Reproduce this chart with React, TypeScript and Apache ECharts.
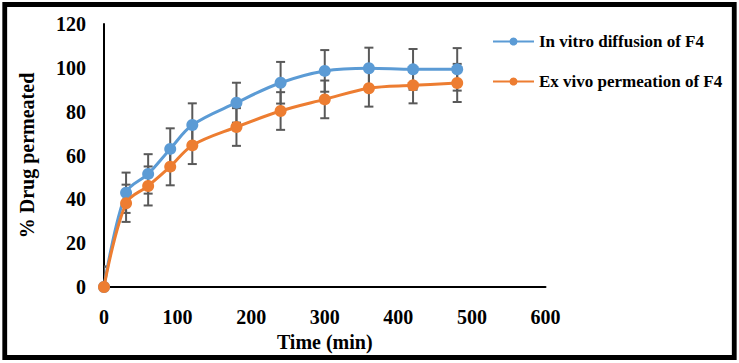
import React, { useEffect, useRef } from "react";
import * as echarts from "echarts";

const times = [0, 30, 60, 90, 120, 180, 240, 300, 360, 420, 480];
const inVitro = [0, 43.0, 51.6, 63.0, 73.9, 84.1, 93.2, 98.6, 99.8, 99.3, 99.3];
const exVivo = [0, 38.2, 46.1, 54.9, 64.6, 73.0, 80.3, 85.6, 90.7, 92.0, 93.1];
const inVitroErr = [9.3, 9.2, 9.0, 9.4, 9.9, 9.1, 9.5, 9.5, 9.4, 9.3, 9.7];
const exVivoErr = [9.3, 8.5, 8.9, 8.5, 8.5, 8.6, 8.6, 8.6, 8.4, 8.2, 8.7];
const seriesNames = ["In vitro diffusion of F4", "Ex vivo permeation of F4"];
const xTitle = "Time (min)";
const yTitle = "% Drug permeated";

const FONT = "Liberation Serif";
const BLUE = "#5B9BD5";
const ORANGE = "#ED7D31";
const ERR = "#595959";

function errorSeries(name: string, vals: number[], errs: number[]) {
  return {
    type: "custom",
    name,
    z: 1,
    clip: true,
    silent: true,
    encode: { x: 0, y: 1 },
    data: times.map((t, i) => [t, vals[i], errs[i]]),
    renderItem: (params: any, api: any) => {
      const x = api.value(0);
      const y = api.value(1);
      const e = api.value(2);
      const top = api.coord([x, y + e]);
      const bot = api.coord([x, y - e]);
      const hw = 4.5;
      const style = { stroke: ERR, lineWidth: 2 };
      return {
        type: "group",
        children: [
          { type: "line", shape: { x1: top[0], y1: top[1], x2: bot[0], y2: bot[1] }, style },
          { type: "line", shape: { x1: top[0] - hw, y1: top[1], x2: top[0] + hw, y2: top[1] }, style },
          { type: "line", shape: { x1: bot[0] - hw, y1: bot[1], x2: bot[0] + hw, y2: bot[1] }, style },
        ],
      };
    },
  };
}

function lineSeries(name: string, vals: number[], color: string, z: number) {
  return {
    type: "line",
    name,
    z,
    data: times.map((t, i) => [t, vals[i]]),
    smooth: 0.35,
    symbol: "circle",
    symbolSize: 12,
    showSymbol: true,
    lineStyle: { color, width: 3 },
    itemStyle: { color },
  };
}

export default function App() {
  const ref = useRef<HTMLDivElement>(null);
  useEffect(() => {
    document.body.style.margin = "0";
    const chart = echarts.init(ref.current!, null, { renderer: "svg" });
    chart.setOption({
      animation: false,
      backgroundColor: "#ffffff",
      textStyle: { fontFamily: FONT },
      grid: { left: 104, top: 24, width: 441.5, height: 263 },
      legend: {
        data: seriesNames,
        orient: "vertical",
        left: 487,
        top: 28,
        itemWidth: 41,
        itemHeight: 10,
        itemGap: 23,
        lineStyle: { width: 2 },
        textStyle: { fontFamily: FONT, fontWeight: "bold", fontSize: 17, color: "#000" },
      },
      xAxis: {
        type: "value",
        min: 0,
        max: 600,
        interval: 100,
        name: xTitle,
        nameLocation: "middle",
        nameGap: 44,
        nameTextStyle: { fontFamily: FONT, fontWeight: "bold", fontSize: 20, color: "#000" },
        axisLine: { show: true, lineStyle: { color: "#000", width: 2 } },
        axisTick: { show: false },
        splitLine: { show: false },
        axisLabel: { fontFamily: FONT, fontWeight: "bold", fontSize: 20, color: "#000", margin: 20 },
      },
      yAxis: {
        type: "value",
        min: 0,
        max: 120,
        interval: 20,
        name: yTitle,
        nameLocation: "middle",
        nameGap: 67,
        nameTextStyle: { fontFamily: FONT, fontWeight: "bold", fontSize: 20, color: "#000" },
        axisLine: { show: true, lineStyle: { color: "#000", width: 2 } },
        axisTick: { show: false },
        splitLine: { show: false },
        axisLabel: { fontFamily: FONT, fontWeight: "bold", fontSize: 20, color: "#000", margin: 18 },
      },
      graphic: [
        {
          type: "rect",
          shape: { x: 4.75, y: 4.5, width: 729.5, height: 353 },
          style: { fill: "none", stroke: "#000", lineWidth: 4.8 },
          silent: true,
        },
      ],
      series: [
        errorSeries("err-invitro", inVitro, inVitroErr),
        errorSeries("err-exvivo", exVivo, exVivoErr),
        lineSeries(seriesNames[0], inVitro, BLUE, 2),
        lineSeries(seriesNames[1], exVivo, ORANGE, 3),
      ],
    });
    return () => chart.dispose();
  }, []);
  return <div ref={ref} style={{ width: 739, height: 363 }} />;
}
